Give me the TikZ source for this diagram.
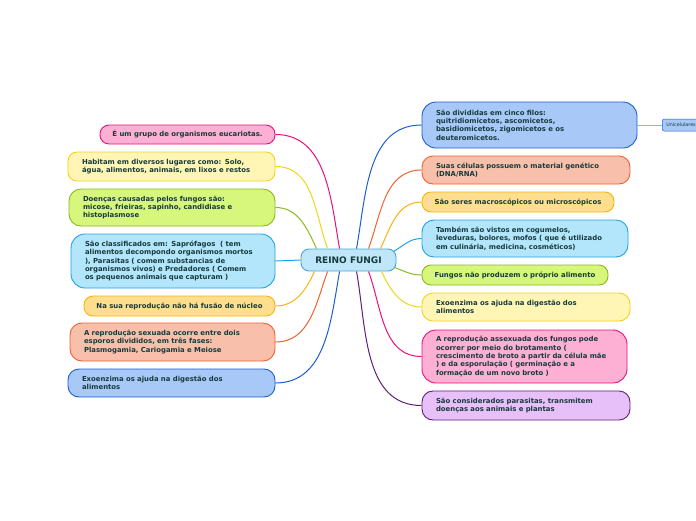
\documentclass[tikz,border=0pt]{standalone}
\usepackage{fontspec}
\setmainfont{DejaVu Sans}
\usepackage{tikz}
\usetikzlibrary{positioning,calc}

\definecolor{txt}{HTML}{173A3C}
\definecolor{pinkB}{HTML}{E8117A}
\definecolor{pinkF}{HTML}{FDB0D4}
\definecolor{yellowB}{HTML}{F0D31A}
\definecolor{yellowF}{HTML}{FFF6B5}
\definecolor{greenB}{HTML}{8CB81E}
\definecolor{greenF}{HTML}{D6F77C}
\definecolor{lblueB}{HTML}{1FA3E6}
\definecolor{lblueF}{HTML}{B3E5FB}
\definecolor{orangeB}{HTML}{F7B50C}
\definecolor{orangeF}{HTML}{FFDF8E}
\definecolor{salmonB}{HTML}{F2612F}
\definecolor{salmonF}{HTML}{F8C0AB}
\definecolor{blueB}{HTML}{1C5FCC}
\definecolor{blueF}{HTML}{A8C9F8}
\definecolor{purpleB}{HTML}{5E1F7A}
\definecolor{purpleF}{HTML}{E8C0F9}
\definecolor{rootB}{HTML}{4AA3DC}
\definecolor{rootF}{HTML}{BFE7F9}
\definecolor{subL}{HTML}{8AB4E8}

\begin{document}
\begin{tikzpicture}[
    x=1pt, y=1pt,
    topic/.style={rectangle, rounded corners=9pt, line width=0.9pt, align=left, inner xsep=14pt, inner ysep=2pt, text=txt, font=\fontsize{6.9}{8.4}\selectfont\bfseries},
    oneline/.style={topic, inner xsep=8pt, minimum height=20pt},
    central/.style={rectangle, rounded corners=8pt, draw=rootB, fill=rootF, line width=0.9pt, minimum width=95pt, minimum height=22pt, text=txt, font=\fontsize{9}{10}\selectfont\bfseries},
    subtopic/.style={rectangle, rounded corners=2pt, draw=blueB, fill=blueF, line width=0.5pt, minimum height=12pt, inner xsep=4pt, text=txt, font=\fontsize{4.8}{5}\selectfont},
    link/.style={line width=1pt}
]
    \useasboundingbox (0,0) rectangle (696,-520);

    \node [central] (root) at (348.5,-260) {REINO FUNGI};

    % left side
    \node [oneline, fill=pinkF, draw=pinkB, minimum width=175pt, minimum height=19pt] (eucariotas) at (187.5,-134.5) {É um grupo de organismos eucariotas.};
    \node [topic, fill=yellowF, draw=yellowB, text width=179pt, minimum height=29pt] (habitam) at (171.5,-166.5) {Habitam em diversos lugares como: Solo,\\água, alimentos, animais, em lixos e restos};
    \node [topic, fill=greenF, draw=greenB, text width=178pt, minimum height=37pt, rounded corners=12pt] (doencas) at (172,-207.5) {Doenças causadas pelos fungos são:\\micose, frieiras, sapinho, candidiase e\\histoplasmose};
    \node [topic, fill=lblueF, draw=lblueB, text width=176pt, minimum height=54pt, rounded corners=14pt] (classificados) at (173,-261) {São classificados em: Saprófagos~ ( tem\\alimentos decompondo organismos mortos\\), Parasitas ( comem substancias de\\organismos vivos) e Predadores ( Comem\\os pequenos animais que capturam )};
    \node [oneline, fill=orangeF, draw=orangeB, minimum width=191pt] (nucleo) at (179.5,-306) {Na sua reprodução não há fusão de núcleo};
    \node [topic, fill=salmonF, draw=salmonB, text width=177pt, minimum height=38pt, rounded corners=12pt] (sexuada) at (172.5,-342) {A reprodução sexuada ocorre entre dois\\esporos divididos, em três fases:\\Plasmogamia, Cariogamia e Meiose};
    \node [topic, fill=blueF, draw=blueB, text width=179pt, minimum height=28pt, rounded corners=11pt] (exoenzimaL) at (171.5,-383) {Exoenzima os ajuda na digestão dos\\alimentos};

    % right side
    \node [topic, fill=blueF, draw=blueB, text width=187pt, minimum height=46pt, rounded corners=14pt] (filos) at (529.5,-125) {São divididas em cinco filos:\\quitridiomicetos, ascomicetos,\\basidiomicetos, zigomicetos e os\\deuteromicetos.};
    \node [topic, fill=salmonF, draw=salmonB, text width=180pt, minimum height=28pt, rounded corners=11pt] (celulas) at (526,-170) {Suas células possuem o material genético\\(DNA/RNA)};
    \node [oneline, fill=orangeF, draw=orangeB, minimum width=192pt] (seres) at (518,-202) {São seres macroscópicos ou microscópicos};
    \node [topic, fill=lblueF, draw=lblueB, text width=178pt, minimum height=37pt, rounded corners=12pt] (cogumelos) at (525,-238.5) {Também são vistos em cogumelos,\\leveduras, bolores, mofos ( que é utilizado\\em culinária, medicina, cosméticos)};
    \node [oneline, fill=greenF, draw=greenB, minimum width=186pt] (alimento) at (515,-275) {Fungos não produzem o próprio alimento};
    \node [topic, fill=yellowF, draw=yellowB, text width=180pt, minimum height=28pt, rounded corners=11pt] (exoenzimaR) at (526,-307) {Exoenzima os ajuda na digestão dos\\alimentos};
    \node [topic, fill=pinkF, draw=pinkB, text width=177pt, minimum height=53pt, rounded corners=14pt] (assexuada) at (524.5,-356.5) {A reprodução assexuada dos fungos pode\\ocorrer por meio do brotamento (\\crescimento de broto a partir da célula mãe\\) e da esporulação ( germinação e a\\formação de um novo broto )};
    \node [topic, fill=purpleF, draw=purpleB, text width=180pt, minimum height=29pt, rounded corners=11pt] (parasitas) at (526,-405.5) {São considerados parasitas, transmitem\\doenças aos animais e plantas};

    \node [subtopic, anchor=west] (unicelulares) at (662,-125) {Unicelulares};

    % connectors
    \draw [link, pinkB] ([xshift=39pt]root.north west) to[out=100, in=0] (eucariotas.east);
    \draw [link, yellowB] ([xshift=27pt]root.north west) to[out=110, in=0] (habitam.east);
    \draw [link, greenB] ([xshift=16pt]root.north west) to[out=115, in=0] (doencas.east);
    \draw [link, lblueB] (root.west) -- (classificados.east);
    \draw [link, orangeB] ([xshift=14pt]root.south west) to[out=-115, in=0] (nucleo.east);
    \draw [link, salmonB] ([xshift=27pt]root.south west) to[out=-110, in=0] (sexuada.east);
    \draw [link, blueB] ([xshift=39pt]root.south west) to[out=-100, in=0] (exoenzimaL.east);

    \draw [link, blueB] ([xshift=56pt]root.north west) to[out=80, in=180] (filos.west);
    \draw [link, salmonB] ([xshift=68pt]root.north west) to[out=70, in=180] (celulas.west);
    \draw [link, orangeB] ([xshift=80pt]root.north west) to[out=65, in=180] (seres.west);
    \draw [link, lblueB] ([xshift=-3pt, yshift=-3pt]root.north east) to[out=30, in=180] (cogumelos.west);
    \draw [link, greenB] ([xshift=-2pt, yshift=4pt]root.south east) to[out=-20, in=180] (alimento.west);
    \draw [link, yellowB] ([xshift=81pt]root.south west) to[out=-65, in=180] (exoenzimaR.west);
    \draw [link, pinkB] ([xshift=68pt]root.south west) to[out=-70, in=180] (assexuada.west);
    \draw [link, purpleB] ([xshift=56pt]root.south west) to[out=-80, in=180] (parasitas.west);
    \draw [link, subL] (filos.east) -- (unicelulares.west);
\end{tikzpicture}
\end{document}
